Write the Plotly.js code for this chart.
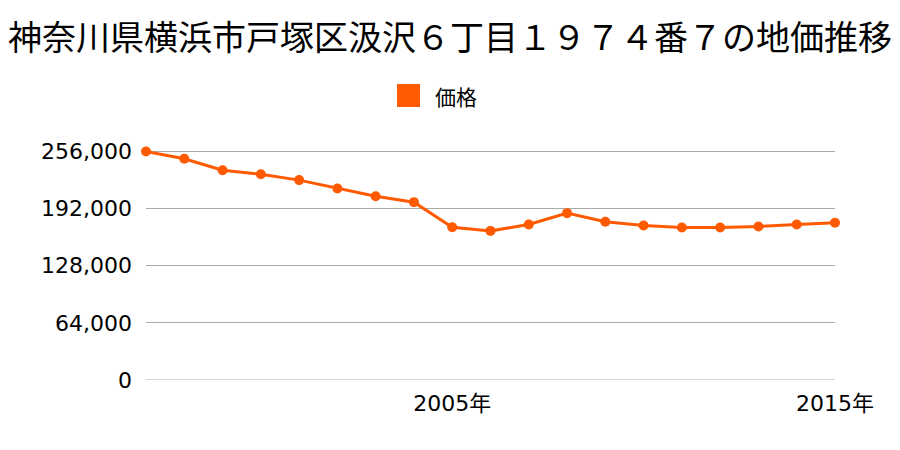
<!DOCTYPE html>
<html>
<head>
<meta charset="utf-8">
<script src="https://cdn.plot.ly/plotly-3.0.1.min.js"></script>
<style>html,body{margin:0;padding:0;background:#fff;}#chart{width:900px;height:450px;}</style>
</head>
<body>
<div id="chart"></div>
<script>
const years = [1997,1998,1999,2000,2001,2002,2003,2004,2005,2006,2007,2008,2009,2010,2011,2012,2013,2014,2015];
const prices = [256000,248000,235000,230500,224000,214700,206000,199300,171200,167100,174300,187000,177300,173100,170900,170900,172000,174300,176200];
const yTicks = [0,64000,128000,192000,256000];
const yTickText = ['0','64,000','128,000','192,000','256,000'];
const xTicks = [2005,2015];
const xTickText = ['2005年','2015年'];
const seriesName = '価格';
const titleText = '神奈川県横浜市戸塚区汲沢６丁目１９７４番７の地価推移';

const color = '#FF5A00';
const font = '"Noto Sans CJK JP", "Noto Sans", sans-serif';
const tickFont = '"DejaVu Sans", "Noto Sans CJK JP", sans-serif';

const trace = {
  x: years, y: prices, type: 'scatter', mode: 'lines+markers', name: seriesName,
  line: {color: color, width: 3}, marker: {color: color, size: 10},
  cliponaxis: false, showlegend: false
};

const layout = {
  width: 900, height: 450,
  margin: {l: 146, r: 65, t: 148, b: 70},
  paper_bgcolor: '#fff', plot_bgcolor: '#fff',
  font: {family: font, color: '#000'},
  title: {text: titleText, font: {family: font, size: 34, color: '#000'}, x: 0.5, xanchor: 'center', y: 0.915, yanchor: 'middle'},
  xaxis: {range: [1997, 2015], tickvals: xTicks, ticktext: xTickText, showgrid: false, zeroline: false,
          showline: false, ticks: '', tickfont: {size: 22, family: tickFont, color: '#000'}, ticklabelstandoff: 8, fixedrange: true},
  yaxis: {range: [0, 260000], tickvals: yTicks, ticktext: yTickText, showgrid: true, gridcolor: '#aaaaaa', gridwidth: 1,
          zeroline: false, showline: false, ticks: '', tickfont: {size: 22, family: tickFont, color: '#000'}, ticklabelstandoff: 13, fixedrange: true},
  shapes: [
    {type: 'line', xref: 'paper', yref: 'y', x0: 0, x1: 1, y0: 0, y1: 0, line: {color: '#aaaaaa', width: 1}, layer: 'below'},
    {type: 'rect', xref: 'paper', yref: 'paper', x0: (397-146)/689, x1: (420-146)/689, y0: (380-107)/232, y1: (380-84)/232,
     fillcolor: color, line: {width: 0}}
  ],
  annotations: [
    {text: seriesName, xref: 'paper', yref: 'paper', x: (433-146)/689, y: (380-96)/232, xanchor: 'left', yanchor: 'middle',
     showarrow: false, font: {size: 21, family: font, color: '#000'}}
  ]
};

Plotly.newPlot('chart', [trace], layout, {displayModeBar: false, staticPlot: true});
</script>
</body>
</html>
